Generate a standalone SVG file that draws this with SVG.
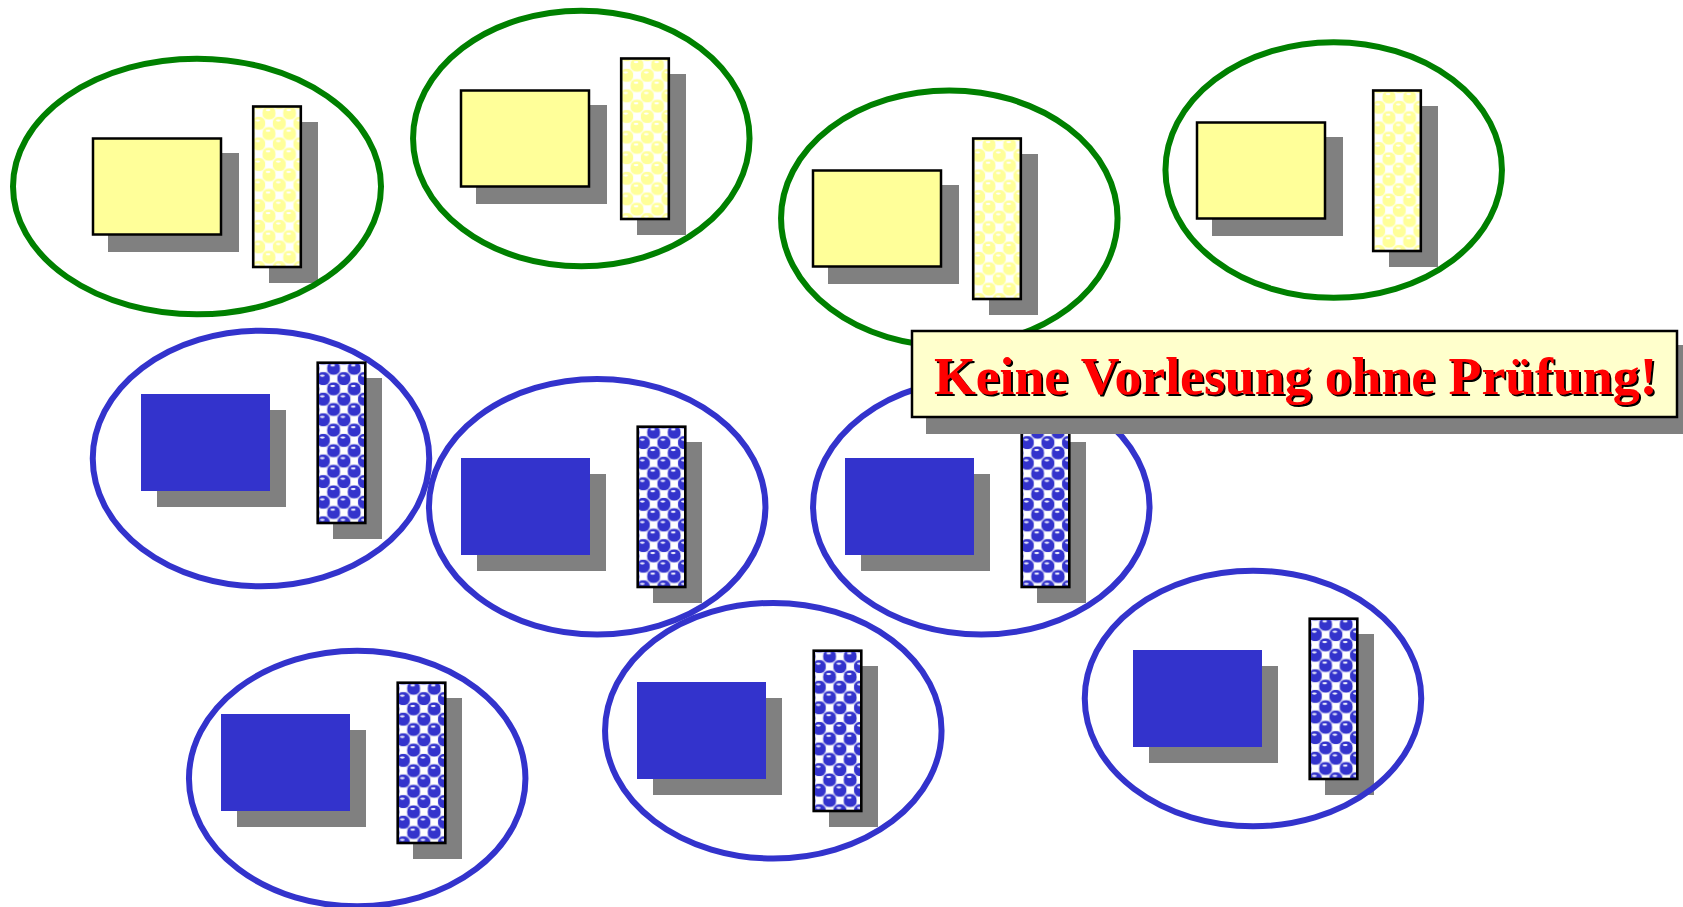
<svg xmlns="http://www.w3.org/2000/svg" width="1683" height="907" viewBox="0 0 1683 907">
<style>
.shadow{fill:#808080}
.ring{fill:none;stroke-width:6}
.green{stroke:#008000}
.blue{stroke:#3333CC}
.box{fill:#FFFF99;stroke:#000;stroke-width:2.5}
.solid{fill:#3333CC}
.strip{stroke:#000;stroke-width:2.6}
.banner{fill:#FFFFCC;stroke:#000;stroke-width:2.5}
.msg{font-family:"Liberation Serif","Times New Roman",serif;font-weight:700;font-size:53.7px;fill:#FF0000;filter:url(#ts)}
</style>
<defs>
<filter id="ts" x="-2%" y="-10%" width="104%" height="125%"><feDropShadow dx="2" dy="2" stdDeviation="0" flood-color="#000"/></filter>
<g id="sq"><rect x="-3.7" y="-3.7" width="7.4" height="7.4" fill="#fff"/></g>
<pattern id="py" patternUnits="userSpaceOnUse" x="177" y="-24" width="20.6" height="20.6">
<rect width="20.6" height="20.6" fill="#FFFFE0"/>
<g fill="#FFFF99"><circle r="6.6"/><circle cx="20.6" r="6.6"/><circle cy="20.6" r="6.6"/><circle cx="20.6" cy="20.6" r="6.6"/><circle cx="10.3" cy="10.3" r="6.6"/></g>
<g fill="#fff"><ellipse cx="9.3" cy="7.4" rx="2.4" ry="1.1"/><ellipse cx="-1" cy="17.7" rx="2.4" ry="1.1"/><ellipse cx="19.6" cy="17.7" rx="2.4" ry="1.1"/></g>
<use href="#sq" x="10.3"/><use href="#sq" y="10.3"/><use href="#sq" x="20.6" y="10.3"/><use href="#sq" x="10.3" y="20.6"/>
</pattern>
<pattern id="pb" patternUnits="userSpaceOnUse" x="192.6" y="-25.7" width="20.6" height="20.6">
<rect width="20.6" height="20.6" fill="#C8C8F0"/>
<g fill="#3333CC"><circle r="6.6"/><circle cx="20.6" r="6.6"/><circle cy="20.6" r="6.6"/><circle cx="20.6" cy="20.6" r="6.6"/><circle cx="10.3" cy="10.3" r="6.6"/></g>
<g fill="#F0F0FF"><ellipse cx="9.3" cy="7.4" rx="2.4" ry="1.1"/><ellipse cx="-1" cy="17.7" rx="2.4" ry="1.1"/><ellipse cx="19.6" cy="17.7" rx="2.4" ry="1.1"/></g>
<use href="#sq" x="10.3"/><use href="#sq" y="10.3"/><use href="#sq" x="20.6" y="10.3"/><use href="#sq" x="10.3" y="20.6"/>
</pattern>
<rect id="gbs" class="shadow" x="16" y="16" width="131" height="99"/>
<rect id="gns" class="shadow" x="177" y="-15" width="49" height="161"/>
<rect id="gbx" class="box" x="1" y="1.5" width="128" height="96"/>
<rect id="gnr" class="strip" x="161.2" y="-30.5" width="47.6" height="160.5" fill="url(#py)"/>
<g id="bs"><rect class="shadow" x="16" y="16" width="129" height="97"/><rect class="shadow" x="192" y="-16" width="49" height="161"/></g>
<g id="bf"><rect class="solid" width="129" height="97"/><rect class="strip" x="176.7" y="-31.3" width="47.6" height="160.3" fill="url(#pb)"/></g>
</defs>
<rect width="1683" height="907" fill="#fff"/>
<g id="node-green-1" transform="translate(92 137)"><use href="#gbs"/><use href="#gns"/><ellipse class="ring green" cx="105" cy="49.5" rx="184" ry="127.8"/><use href="#gbx"/><use href="#gnr"/></g>
<g id="node-green-2" transform="translate(460 89)"><use href="#gbs"/><use href="#gns"/><ellipse class="ring green" cx="121.3" cy="49.5" rx="168.25" ry="127.8"/><use href="#gbx"/><use href="#gnr"/></g>
<g id="node-green-3" transform="translate(812 169)"><use href="#gbs"/><use href="#gns"/><ellipse class="ring green" cx="137.3" cy="49.3" rx="168.25" ry="127.8"/><use href="#gbx"/><use href="#gnr"/></g>
<g id="node-green-4" transform="translate(1196 121)"><use href="#gbs"/><use href="#gns" x="16"/><ellipse class="ring green" cx="137.7" cy="49" rx="168.25" ry="127.8"/><use href="#gbx"/><use href="#gnr" x="16"/></g>
<g id="node-blue-1" transform="translate(141 394)"><use href="#bs"/><ellipse class="ring blue" cx="120" cy="64.5" rx="168.25" ry="127.8"/><use href="#bf"/></g>
<g id="node-blue-2" transform="translate(461 458)"><use href="#bs"/><ellipse class="ring blue" cx="136.2" cy="48.7" rx="168.25" ry="127.8"/><use href="#bf"/></g>
<g id="node-blue-3" transform="translate(845 458)"><use href="#bs"/><ellipse class="ring blue" cx="136.3" cy="48.7" rx="168.25" ry="127.8"/><use href="#bf"/></g>
<g id="node-blue-4" transform="translate(221 714)"><use href="#bs"/><ellipse class="ring blue" cx="136.2" cy="64.5" rx="168.25" ry="127.8"/><use href="#bf"/></g>
<g id="node-blue-5" transform="translate(637 682)"><use href="#bs"/><ellipse class="ring blue" cx="136.3" cy="48.7" rx="168.25" ry="127.8"/><use href="#bf"/></g>
<g id="node-blue-6" transform="translate(1133 650)"><use href="#bs"/><ellipse class="ring blue" cx="120" cy="48.5" rx="168.25" ry="127.8"/><use href="#bf"/></g>
<g id="node-banner">
<rect class="shadow" x="926" y="345" width="757" height="89"/>
<rect class="banner" x="912" y="331" width="765" height="86"/>
<text class="msg" x="934" y="394">Keine Vorlesung ohne Prüfung!</text>
</g>
<g id="connectors"/>
</svg>
